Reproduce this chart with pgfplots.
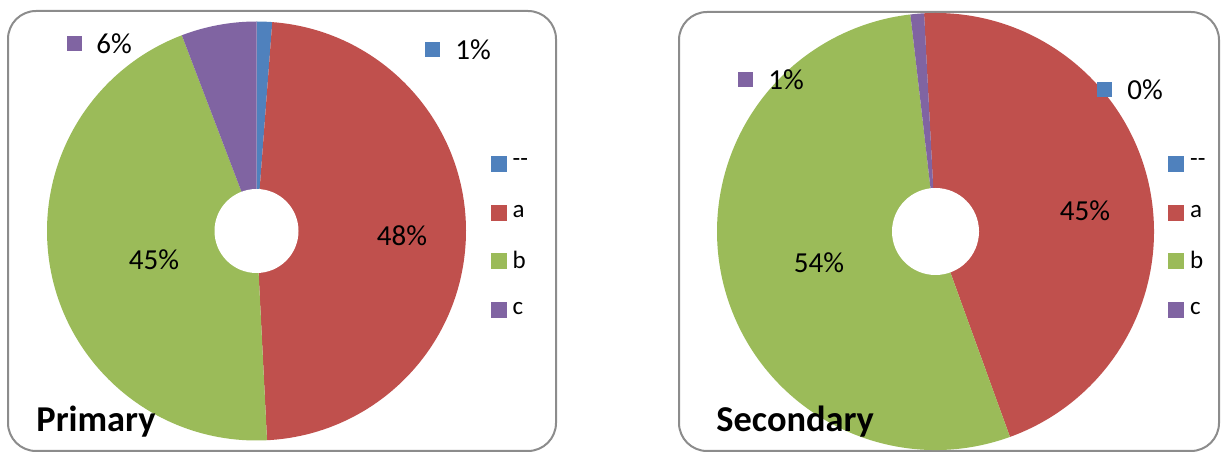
\documentclass[border=0pt]{standalone}
\usepackage{fontspec}
\setmainfont{Carlito}
\usepackage{pgfplots}
\usepackage{pgfplotstable}
\pgfplotsset{compat=1.18}
\definecolor{cBlue}{HTML}{4F81BD}
\definecolor{cRed}{HTML}{C0504D}
\definecolor{cGreen}{HTML}{9BBB59}
\definecolor{cPurple}{HTML}{8064A2}
\definecolor{cFrame}{HTML}{8C8C8C}

% shares in percent: --, a, b, c
\pgfplotstableread{
value
1.2
48.0
45.0
5.8
}\primarydata
\pgfplotstableread{
value
0.0
45.3
53.7
1.0
}\secondarydata

\newcommand{\lab}{\fontsize{14.5}{16}\selectfont}
\newcommand{\ttl}{\bfseries\fontsize{18.2}{20}\selectfont}

% #1 table, #2 cx, #3 cy, #4 radius (px), #5 hole radius (px), #6 start angle
\newcommand{\drawpie}[6]{%
  \pgfplotsextra{%
    \pgfmathsetmacro\pieang{#6}%
    \global\let\pieang\pieang
    \pgfplotstableforeachcolumnelement{value}\of#1\as\pieval{%
      \pgfmathsetmacro\pienext{\pieang-3.6*\pieval}%
      \ifcase\pgfplotstablerow\def\piecol{cBlue}\or\def\piecol{cRed}\or\def\piecol{cGreen}\else\def\piecol{cPurple}\fi
      \fill[\piecol] (axis cs:#2,#3) -- ++(\pieang:#4*0.5pt) arc[start angle=\pieang, end angle=\pienext, radius=#4*0.5pt] -- cycle;
      \global\let\pieang\pienext
    }%
    \fill[white] (axis cs:#2,#3) circle[radius=#5*0.5pt];
  }%
}

\pgfplotsset{
  pieaxis/.style={x=0.5pt,y=0.5pt,xmin=0,xmax=1223,ymin=0,ymax=455,hide axis,clip=false,
    legend cell align=left,
    legend style={draw=none, fill=none, anchor=north west, inner sep=0pt,
      font=\fontsize{12.5}{14}\selectfont, row sep=0pt,
      nodes={inner sep=1.5pt, minimum height=24.2pt},
      /tikz/every odd column/.append style={column sep=1.5pt}},
  },
  sq/.style={legend image code/.code={\fill[#1] (0pt,-3.75pt) rectangle (7.5pt,3.75pt);}},
}

\begin{document}
\begin{tikzpicture}
% ---------------- Primary ----------------
\begin{axis}[pieaxis, legend style={at={(0.401,0.693)}}]
\draw[cFrame, line width=1pt, rounded corners=14pt] (axis cs:8,4) rectangle (axis cs:556,444);
\drawpie{\primarydata}{256.5}{224}{209.5}{42}{90}
\addlegendimage{sq=cBlue}\addlegendentry{{-}{-}}
\addlegendimage{sq=cRed}\addlegendentry{a}
\addlegendimage{sq=cGreen}\addlegendentry{b}
\addlegendimage{sq=cPurple}\addlegendentry{c}
\node[fill=cPurple, minimum size=7.5pt, inner sep=0pt] at (axis cs:74,411.5) {};
\node[anchor=west, font=\lab, inner sep=0pt] at (axis cs:96,411) {6\%};
\node[fill=cBlue, minimum size=7.5pt, inner sep=0pt] at (axis cs:432,405) {};
\node[anchor=west, font=\lab, inner sep=0pt] at (axis cs:455,405) {1\%};
\node[font=\lab, inner sep=0pt] at (axis cs:402,219.5) {48\%};
\node[font=\lab, inner sep=0pt] at (axis cs:154,195) {45\%};
\node[anchor=base west, font=\ttl, inner sep=0pt] at (axis cs:36,23) {Primary};
\end{axis}
% ---------------- Secondary ----------------
\begin{axis}[pieaxis, legend style={at={(0.955,0.693)}}]
\draw[cFrame, line width=1pt, rounded corners=14pt] (axis cs:679,4) rectangle (axis cs:1219,443);
\drawpie{\secondarydata}{935.5}{223.5}{218.5}{43.5}{93}
\addlegendimage{sq=cBlue}\addlegendentry{{-}{-}}
\addlegendimage{sq=cRed}\addlegendentry{a}
\addlegendimage{sq=cGreen}\addlegendentry{b}
\addlegendimage{sq=cPurple}\addlegendentry{c}
\node[fill=cPurple, minimum size=7.5pt, inner sep=0pt] at (axis cs:745,375) {};
\node[anchor=west, font=\lab, inner sep=0pt] at (axis cs:768,375) {1\%};
\node[fill=cBlue, minimum size=7.5pt, inner sep=0pt] at (axis cs:1104,365) {};
\node[anchor=west, font=\lab, inner sep=0pt] at (axis cs:1127,365) {0\%};
\node[font=\lab, inner sep=0pt] at (axis cs:1085,244) {45\%};
\node[font=\lab, inner sep=0pt] at (axis cs:819,192) {54\%};
\node[anchor=base west, font=\ttl, inner sep=0pt] at (axis cs:716,23) {Secondary};
\end{axis}
\pgfresetboundingbox
\useasboundingbox (0,0) rectangle (611.5pt,227.5pt);
\end{tikzpicture}
\end{document}
